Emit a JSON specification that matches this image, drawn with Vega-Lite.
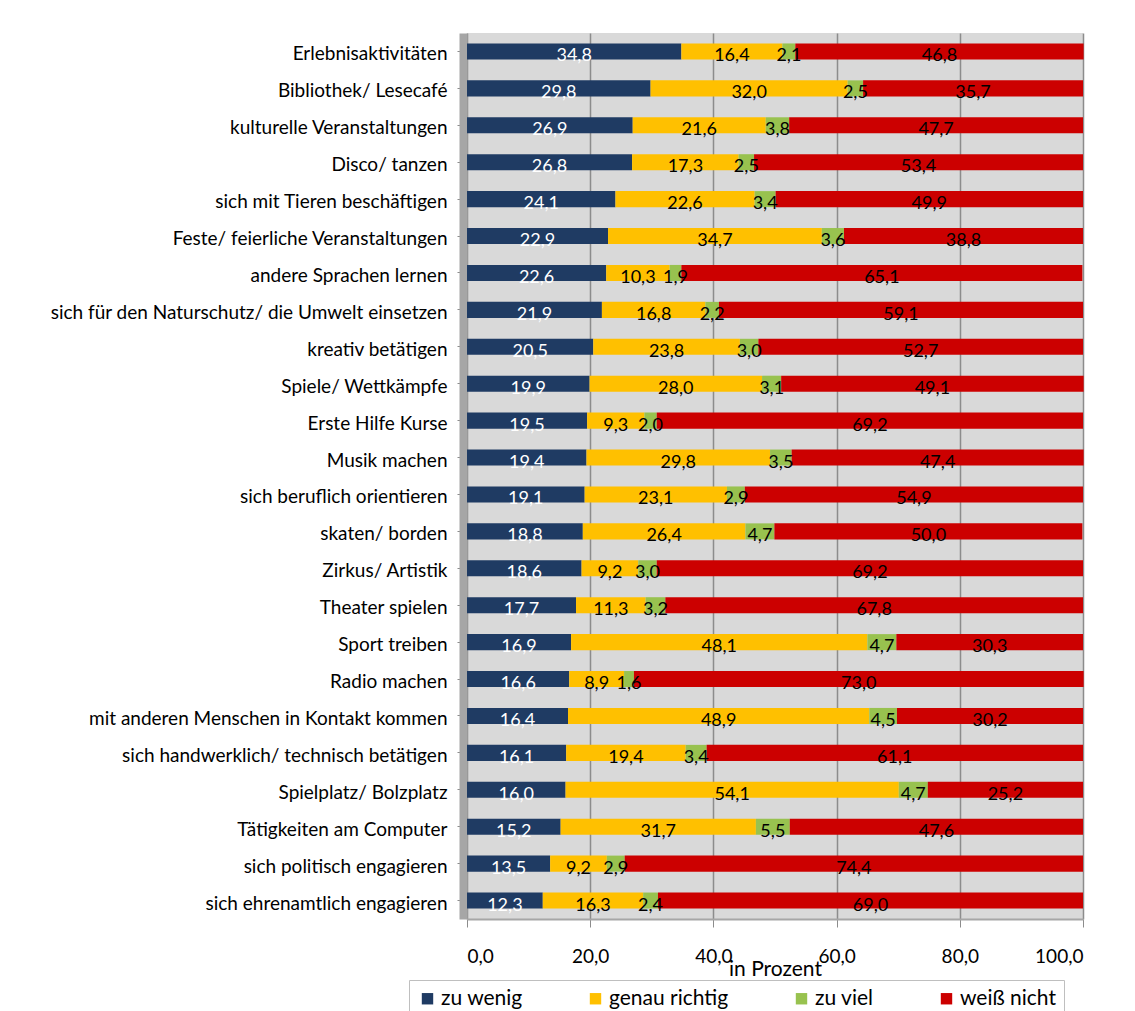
{
  "$schema": "https://vega.github.io/schema/vega-lite/v6.json",
  "width": 616,
  "height": 886,
  "autosize": {"type": "none"},
  "padding": {"left": 467, "top": 33, "right": 52, "bottom": 92},
  "background": "white",
  "config": {
    "locale": {"number": {"decimal": ",", "thousands": ".", "grouping": [3], "currency": ["", " €"]}},
    "view": {"fill": "#d9d9d9", "stroke": null},
    "font": "Lato"
  },
  "data": {"values": [
    {"a": "Erlebnisaktivitäten", "k": "zu wenig", "v": 34.8},
    {"a": "Erlebnisaktivitäten", "k": "genau richtig", "v": 16.4},
    {"a": "Erlebnisaktivitäten", "k": "zu viel", "v": 2.1},
    {"a": "Erlebnisaktivitäten", "k": "weiß nicht", "v": 46.8},
    {"a": "Bibliothek/ Lesecafé", "k": "zu wenig", "v": 29.8},
    {"a": "Bibliothek/ Lesecafé", "k": "genau richtig", "v": 32.0},
    {"a": "Bibliothek/ Lesecafé", "k": "zu viel", "v": 2.5},
    {"a": "Bibliothek/ Lesecafé", "k": "weiß nicht", "v": 35.7},
    {"a": "kulturelle Veranstaltungen", "k": "zu wenig", "v": 26.9},
    {"a": "kulturelle Veranstaltungen", "k": "genau richtig", "v": 21.6},
    {"a": "kulturelle Veranstaltungen", "k": "zu viel", "v": 3.8},
    {"a": "kulturelle Veranstaltungen", "k": "weiß nicht", "v": 47.7},
    {"a": "Disco/ tanzen", "k": "zu wenig", "v": 26.8},
    {"a": "Disco/ tanzen", "k": "genau richtig", "v": 17.3},
    {"a": "Disco/ tanzen", "k": "zu viel", "v": 2.5},
    {"a": "Disco/ tanzen", "k": "weiß nicht", "v": 53.4},
    {"a": "sich mit Tieren beschäftigen", "k": "zu wenig", "v": 24.1},
    {"a": "sich mit Tieren beschäftigen", "k": "genau richtig", "v": 22.6},
    {"a": "sich mit Tieren beschäftigen", "k": "zu viel", "v": 3.4},
    {"a": "sich mit Tieren beschäftigen", "k": "weiß nicht", "v": 49.9},
    {"a": "Feste/ feierliche Veranstaltungen", "k": "zu wenig", "v": 22.9},
    {"a": "Feste/ feierliche Veranstaltungen", "k": "genau richtig", "v": 34.7},
    {"a": "Feste/ feierliche Veranstaltungen", "k": "zu viel", "v": 3.6},
    {"a": "Feste/ feierliche Veranstaltungen", "k": "weiß nicht", "v": 38.8},
    {"a": "andere Sprachen lernen", "k": "zu wenig", "v": 22.6},
    {"a": "andere Sprachen lernen", "k": "genau richtig", "v": 10.3},
    {"a": "andere Sprachen lernen", "k": "zu viel", "v": 1.9},
    {"a": "andere Sprachen lernen", "k": "weiß nicht", "v": 65.1},
    {"a": "sich für den Naturschutz/ die Umwelt einsetzen", "k": "zu wenig", "v": 21.9},
    {"a": "sich für den Naturschutz/ die Umwelt einsetzen", "k": "genau richtig", "v": 16.8},
    {"a": "sich für den Naturschutz/ die Umwelt einsetzen", "k": "zu viel", "v": 2.2},
    {"a": "sich für den Naturschutz/ die Umwelt einsetzen", "k": "weiß nicht", "v": 59.1},
    {"a": "kreativ betätigen", "k": "zu wenig", "v": 20.5},
    {"a": "kreativ betätigen", "k": "genau richtig", "v": 23.8},
    {"a": "kreativ betätigen", "k": "zu viel", "v": 3.0},
    {"a": "kreativ betätigen", "k": "weiß nicht", "v": 52.7},
    {"a": "Spiele/ Wettkämpfe", "k": "zu wenig", "v": 19.9},
    {"a": "Spiele/ Wettkämpfe", "k": "genau richtig", "v": 28.0},
    {"a": "Spiele/ Wettkämpfe", "k": "zu viel", "v": 3.1},
    {"a": "Spiele/ Wettkämpfe", "k": "weiß nicht", "v": 49.1},
    {"a": "Erste Hilfe Kurse", "k": "zu wenig", "v": 19.5},
    {"a": "Erste Hilfe Kurse", "k": "genau richtig", "v": 9.3},
    {"a": "Erste Hilfe Kurse", "k": "zu viel", "v": 2.0},
    {"a": "Erste Hilfe Kurse", "k": "weiß nicht", "v": 69.2},
    {"a": "Musik machen", "k": "zu wenig", "v": 19.4},
    {"a": "Musik machen", "k": "genau richtig", "v": 29.8},
    {"a": "Musik machen", "k": "zu viel", "v": 3.5},
    {"a": "Musik machen", "k": "weiß nicht", "v": 47.4},
    {"a": "sich beruflich orientieren", "k": "zu wenig", "v": 19.1},
    {"a": "sich beruflich orientieren", "k": "genau richtig", "v": 23.1},
    {"a": "sich beruflich orientieren", "k": "zu viel", "v": 2.9},
    {"a": "sich beruflich orientieren", "k": "weiß nicht", "v": 54.9},
    {"a": "skaten/ borden", "k": "zu wenig", "v": 18.8},
    {"a": "skaten/ borden", "k": "genau richtig", "v": 26.4},
    {"a": "skaten/ borden", "k": "zu viel", "v": 4.7},
    {"a": "skaten/ borden", "k": "weiß nicht", "v": 50.0},
    {"a": "Zirkus/ Artistik", "k": "zu wenig", "v": 18.6},
    {"a": "Zirkus/ Artistik", "k": "genau richtig", "v": 9.2},
    {"a": "Zirkus/ Artistik", "k": "zu viel", "v": 3.0},
    {"a": "Zirkus/ Artistik", "k": "weiß nicht", "v": 69.2},
    {"a": "Theater spielen", "k": "zu wenig", "v": 17.7},
    {"a": "Theater spielen", "k": "genau richtig", "v": 11.3},
    {"a": "Theater spielen", "k": "zu viel", "v": 3.2},
    {"a": "Theater spielen", "k": "weiß nicht", "v": 67.8},
    {"a": "Sport treiben", "k": "zu wenig", "v": 16.9},
    {"a": "Sport treiben", "k": "genau richtig", "v": 48.1},
    {"a": "Sport treiben", "k": "zu viel", "v": 4.7},
    {"a": "Sport treiben", "k": "weiß nicht", "v": 30.3},
    {"a": "Radio machen", "k": "zu wenig", "v": 16.6},
    {"a": "Radio machen", "k": "genau richtig", "v": 8.9},
    {"a": "Radio machen", "k": "zu viel", "v": 1.6},
    {"a": "Radio machen", "k": "weiß nicht", "v": 73.0},
    {"a": "mit anderen Menschen in Kontakt kommen", "k": "zu wenig", "v": 16.4},
    {"a": "mit anderen Menschen in Kontakt kommen", "k": "genau richtig", "v": 48.9},
    {"a": "mit anderen Menschen in Kontakt kommen", "k": "zu viel", "v": 4.5},
    {"a": "mit anderen Menschen in Kontakt kommen", "k": "weiß nicht", "v": 30.2},
    {"a": "sich handwerklich/ technisch betätigen", "k": "zu wenig", "v": 16.1},
    {"a": "sich handwerklich/ technisch betätigen", "k": "genau richtig", "v": 19.4},
    {"a": "sich handwerklich/ technisch betätigen", "k": "zu viel", "v": 3.4},
    {"a": "sich handwerklich/ technisch betätigen", "k": "weiß nicht", "v": 61.1},
    {"a": "Spielplatz/ Bolzplatz", "k": "zu wenig", "v": 16.0},
    {"a": "Spielplatz/ Bolzplatz", "k": "genau richtig", "v": 54.1},
    {"a": "Spielplatz/ Bolzplatz", "k": "zu viel", "v": 4.7},
    {"a": "Spielplatz/ Bolzplatz", "k": "weiß nicht", "v": 25.2},
    {"a": "Tätigkeiten am Computer", "k": "zu wenig", "v": 15.2},
    {"a": "Tätigkeiten am Computer", "k": "genau richtig", "v": 31.7},
    {"a": "Tätigkeiten am Computer", "k": "zu viel", "v": 5.5},
    {"a": "Tätigkeiten am Computer", "k": "weiß nicht", "v": 47.6},
    {"a": "sich politisch engagieren", "k": "zu wenig", "v": 13.5},
    {"a": "sich politisch engagieren", "k": "genau richtig", "v": 9.2},
    {"a": "sich politisch engagieren", "k": "zu viel", "v": 2.9},
    {"a": "sich politisch engagieren", "k": "weiß nicht", "v": 74.4},
    {"a": "sich ehrenamtlich engagieren", "k": "zu wenig", "v": 12.3},
    {"a": "sich ehrenamtlich engagieren", "k": "genau richtig", "v": 16.3},
    {"a": "sich ehrenamtlich engagieren", "k": "zu viel", "v": 2.4},
    {"a": "sich ehrenamtlich engagieren", "k": "weiß nicht", "v": 69.0}
  ]},
  "transform": [
    {"calculate": "indexof(['zu wenig','genau richtig','zu viel','weiß nicht'], datum.k)", "as": "o"},
    {"stack": "v", "groupby": ["a"], "sort": [{"field": "o", "order": "ascending"}], "as": ["x0", "x1"]},
    {"calculate": "(datum.x0 + datum.x1) / 2", "as": "mid"}
  ],
  "encoding": {
    "y": {
      "field": "a", "type": "nominal", "sort": null,
      "scale": {"paddingInner": 0.566, "paddingOuter": 0.283},
      "axis": {
        "title": null, "labelFontSize": 19, "labelColor": "#000000", "labelLimit": 460,
        "labelPadding": 10, "labelOffset": 3, "tickSize": 6, "tickColor": "#8c8c8c", "offset": 4,
        "domainColor": "#a6a6a6", "domainWidth": 8, "labelFont": "Lato"
      }
    }
  },
  "layer": [
    {
      "mark": {"type": "bar"},
      "encoding": {
        "x": {
          "field": "x0", "type": "quantitative",
          "scale": {"domain": [0, 100], "nice": false},
          "axis": {
            "title": "in Prozent", "titleFontSize": 21, "titleFontWeight": "normal", "titleColor": "#000000",
            "titlePadding": -8, "values": [0, 20, 40, 60, 80, 100], "format": ".1f",
            "labelFontSize": 19, "labelColor": "#000000", "labelPadding": 20, "tickSize": 8,
            "tickColor": "#8c8c8c", "domainColor": "#a6a6a6", "domainWidth": 2,
            "grid": true, "gridColor": "#8c8c8c", "gridWidth": 1.5
          }
        },
        "x2": {"field": "x1"},
        "color": {
          "field": "k", "type": "nominal",
          "scale": {
            "domain": ["zu wenig", "genau richtig", "zu viel", "weiß nicht"],
            "range": ["#1f3b63", "#ffc000", "#98c24f", "#cc0000"]
          },
          "legend": {
            "title": null, "orient": "none", "direction": "horizontal", "columns": 4,
            "legendX": -58, "legendY": 947, "padding": 8, "columnPadding": 62,
            "symbolType": "square", "symbolSize": 130, "symbolStrokeWidth": 0,
            "labelFontSize": 21, "labelColor": "#000000", "labelOffset": 3,
            "strokeColor": "#bfbfbf", "fillColor": "#ffffff"
          }
        }
      }
    },
    {
      "mark": {"type": "text", "dy": 5, "fontSize": 18, "font": "Lato"},
      "encoding": {
        "x": {"field": "mid", "type": "quantitative"},
        "text": {"field": "v", "type": "quantitative", "format": ".1f"},
        "color": {"condition": {"test": "datum.k === 'zu wenig'", "value": "#ffffff"}, "value": "#000000"}
      }
    }
  ]
}
